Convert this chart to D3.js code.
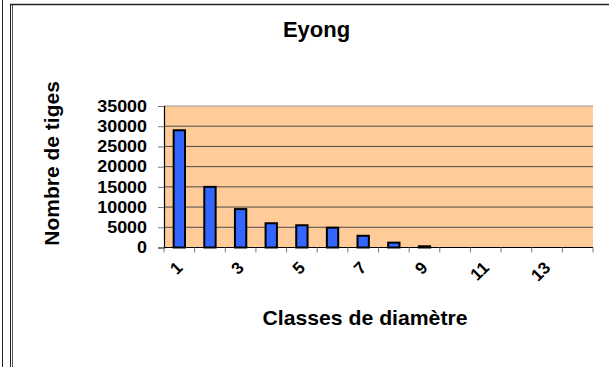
<!DOCTYPE html>
<html>
<head>
<meta charset="utf-8">
<script src="https://cdn.jsdelivr.net/npm/d3@7"></script>
<style>
  html, body { margin: 0; padding: 0; background: #fff; }
  svg { display: block; font-family: "Liberation Sans", Arial, sans-serif; font-weight: bold; }
</style>
</head>
<body>
<svg id="chart" width="609" height="367"></svg>
<script>
// Stem counts per diameter class
const classes = [1, 2, 3, 4, 5, 6, 7, 8, 9, 10, 11, 12, 13, 14];
const stems = [29000, 15000, 9500, 6000, 5500, 4900, 2900, 1200, 300, 0, 0, 0, 0, 0];
const yTicks = [0, 5000, 10000, 15000, 20000, 25000, 30000, 35000];
const xLabelled = [1, 3, 5, 7, 9, 11, 13];
const title = "Eyong";
const xTitle = "Classes de diamètre";
const yTitle = "Nombre de tiges";

const svg = d3.select("#chart");
const W = 609, H = 367;
const plot = { left: 164, right: 593, top: 106, bottom: 247.5 };

// Frame lines
svg.append("line").attr("x1", 2.5).attr("x2", 2.5).attr("y1", 0).attr("y2", H)
  .attr("stroke", "#222").attr("stroke-width", 1);
svg.append("line").attr("x1", 10.5).attr("x2", 10.5).attr("y1", 4.5).attr("y2", H)
  .attr("stroke", "#222").attr("stroke-width", 1);
svg.append("line").attr("x1", 12.5).attr("x2", 12.5).attr("y1", 4.5).attr("y2", H)
  .attr("stroke", "#555").attr("stroke-width", 1);
svg.append("line").attr("x1", 10).attr("x2", W).attr("y1", 4.5).attr("y2", 4.5)
  .attr("stroke", "#222").attr("stroke-width", 1.5);

const x = d3.scaleBand().domain(classes).range([plot.left, plot.right]).padding(0);
const y = d3.scaleLinear().domain([0, 35000]).range([plot.bottom, plot.top]);

// Plot background
svg.append("rect")
  .attr("x", plot.left).attr("y", plot.top)
  .attr("width", plot.right - plot.left).attr("height", plot.bottom - plot.top)
  .attr("fill", "#FFCC99");

// Gridlines
svg.append("g").selectAll("line").data(yTicks.filter(d => d > 0)).join("line")
  .attr("x1", plot.left).attr("x2", plot.right)
  .attr("y1", d => y(d)).attr("y2", d => y(d))
  .attr("stroke", d => d === 35000 ? "#999" : "#4a4a4a")
  .attr("stroke-width", 1);

// Bars
const barW = x.bandwidth() * 0.37;
svg.append("g").selectAll("rect").data(classes.map((c, i) => ({ c, v: stems[i] }))).join("rect")
  .attr("x", d => x(d.c) + (x.bandwidth() - barW) / 2)
  .attr("y", d => y(d.v))
  .attr("width", barW)
  .attr("height", d => y(0) - y(d.v))
  .attr("fill", "#3366FF")
  .attr("stroke", "#000")
  .attr("stroke-width", 2);

// Y axis
const yAxis = svg.append("g").attr("transform", `translate(${plot.left},0)`)
  .call(d3.axisLeft(y).tickValues(yTicks).tickSize(6).tickFormat(""));
yAxis.select(".domain").attr("stroke", "#000").attr("stroke-width", 1.2);
yAxis.selectAll(".tick line").attr("stroke", "#777");

svg.append("g").selectAll("g").data(yTicks).join("g")
  .attr("transform", d => `translate(147,${y(d)})`)
  .append("text")
  .attr("transform", "scale(1.12,1)")
  .attr("text-anchor", "end")
  .attr("dy", "0.36em")
  .attr("font-size", 16)
  .attr("fill", "#000")
  .text(d => d);

// X axis
const xEdges = classes.map(c => x(c)).concat([plot.right]);
svg.append("line").attr("x1", plot.left).attr("x2", plot.right)
  .attr("y1", plot.bottom).attr("y2", plot.bottom)
  .attr("stroke", "#000").attr("stroke-width", 1.2);
svg.append("g").selectAll("line").data(xEdges).join("line")
  .attr("x1", d => d).attr("x2", d => d)
  .attr("y1", plot.bottom).attr("y2", plot.bottom + 5)
  .attr("stroke", "#777").attr("stroke-width", 1);

svg.append("g").selectAll("text").data(xLabelled).join("text")
  .attr("transform", d => `translate(${x(d) + x.bandwidth() / 2},${plot.bottom + 17}) rotate(-45)`)
  .attr("text-anchor", "end")
  .attr("dy", "0.36em")
  .attr("font-size", 17)
  .attr("fill", "#000")
  .text(d => d);

// Titles
svg.append("text").attr("x", 316.5).attr("y", 36.7)
  .attr("text-anchor", "middle").attr("font-size", 22).attr("fill", "#000")
  .text(title);

svg.append("text").attr("x", 365).attr("y", 325)
  .attr("text-anchor", "middle").attr("font-size", 20.5).attr("fill", "#000")
  .attr("textLength", 205).attr("lengthAdjust", "spacingAndGlyphs")
  .text(xTitle);

svg.append("text")
  .attr("transform", "translate(58.5,163.4) rotate(-90)")
  .attr("text-anchor", "middle").attr("font-size", 21).attr("fill", "#000")
  .text(yTitle);
</script>
</body>
</html>
